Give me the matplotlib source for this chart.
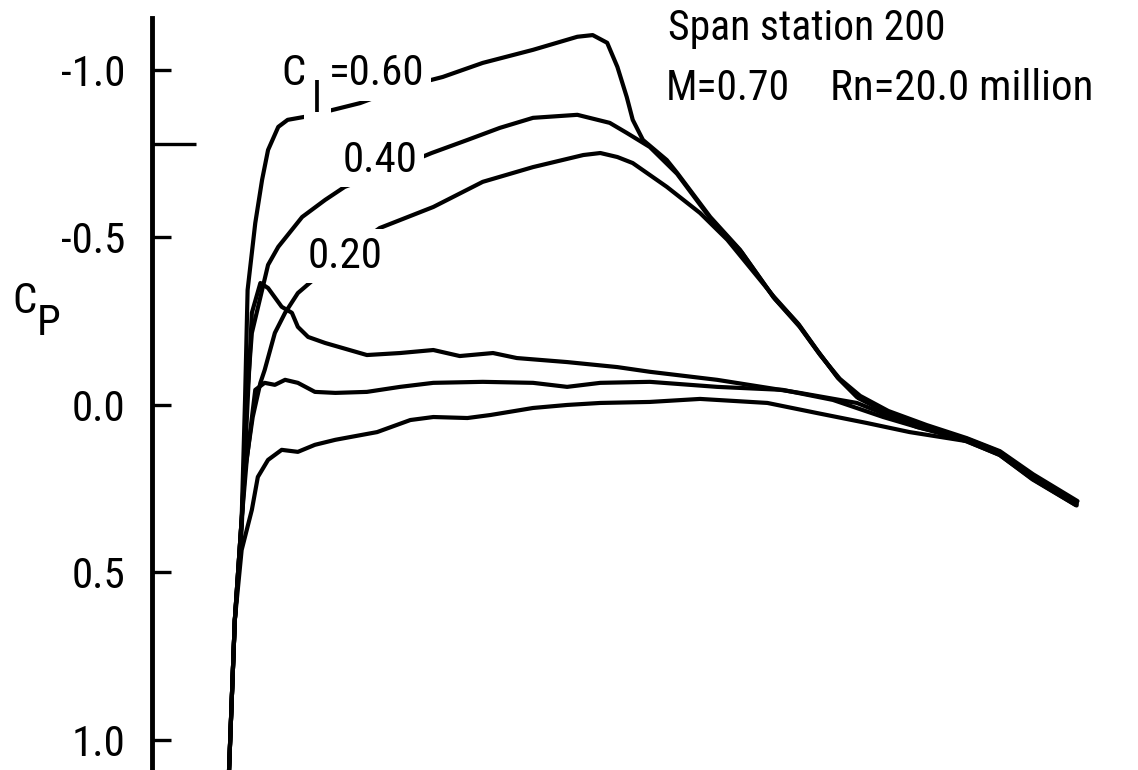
import numpy as np
import matplotlib
matplotlib.use('Agg')
import matplotlib.pyplot as plt

plt.rcParams['font.family'] = ['Roboto Condensed', 'DejaVu Sans']

# chord position x/c and pressure coefficient Cp
# upper surface, CL = 0.60
x_u60 = [0.001, 0.008, 0.016, 0.020, 0.023, 0.032, 0.040, 0.047, 0.059, 0.070, 0.090, 0.114, 0.155, 0.202,
         0.252, 0.299, 0.358, 0.410, 0.428, 0.445, 0.457, 0.468, 0.475, 0.487, 0.515, 0.527, 0.566, 0.601,
         0.640, 0.668, 0.691, 0.715, 0.738, 0.769, 0.820, 0.867, 0.906, 0.945, 0.996]
cp_u60 = [1.104, 0.642, 0.343, -0.015, -0.343, -0.543, -0.672, -0.761, -0.830, -0.851, -0.860, -0.875, -0.901, -0.946,
          -0.979, -1.021, -1.060, -1.099, -1.104, -1.081, -1.009, -0.919, -0.851, -0.791, -0.731, -0.693, -0.561, -0.463,
          -0.322, -0.245, -0.164, -0.084, -0.024, 0.015, 0.066, 0.104, 0.143, 0.215, 0.293]

# upper surface, CL = 0.40
x_u40 = [0.001, 0.008, 0.016, 0.022, 0.028, 0.040, 0.047, 0.059, 0.087, 0.114, 0.137, 0.190, 0.239, 0.281,
         0.319, 0.358, 0.410, 0.448, 0.468, 0.495, 0.527, 0.566, 0.603, 0.642, 0.671, 0.695, 0.718, 0.742,
         0.775, 0.820, 0.867, 0.906, 0.945, 0.997]
cp_u40 = [1.104, 0.642, 0.373, -0.015, -0.215, -0.343, -0.418, -0.472, -0.561, -0.612, -0.651, -0.701, -0.752, -0.791,
          -0.827, -0.857, -0.866, -0.842, -0.812, -0.770, -0.690, -0.557, -0.455, -0.316, -0.233, -0.149, -0.078, -0.027,
          0.018, 0.060, 0.099, 0.138, 0.207, 0.287]

# upper surface, CL = 0.20
x_u20 = [0.001, 0.008, 0.020, 0.029, 0.038, 0.043, 0.055, 0.067, 0.082, 0.104, 0.143, 0.178, 0.241, 0.299,
         0.358, 0.417, 0.437, 0.457, 0.475, 0.515, 0.554, 0.586, 0.640, 0.670, 0.693, 0.716, 0.740, 0.772,
         0.820, 0.866, 0.905, 0.944, 0.995]
cp_u20 = [1.104, 0.642, 0.194, 0.036, -0.066, -0.104, -0.215, -0.275, -0.334, -0.382, -0.463, -0.528, -0.591, -0.666,
          -0.710, -0.746, -0.752, -0.740, -0.722, -0.651, -0.573, -0.493, -0.325, -0.240, -0.158, -0.080, -0.020, 0.021,
          0.070, 0.108, 0.148, 0.222, 0.299]

# lower surface, CL = 0.20
x_l20 = [0.001, 0.008, 0.016, 0.022, 0.028, 0.038, 0.047, 0.063, 0.075, 0.082, 0.094, 0.114, 0.163, 0.202,
         0.241, 0.272, 0.311, 0.339, 0.398, 0.457, 0.495, 0.574, 0.671, 0.738, 0.809, 0.867, 0.906, 0.945, 0.996]
cp_l20 = [1.104, 0.642, 0.343, 0.045, -0.275, -0.364, -0.349, -0.293, -0.275, -0.233, -0.203, -0.185, -0.149, -0.155,
          -0.164, -0.146, -0.155, -0.140, -0.128, -0.113, -0.099, -0.075, -0.036, -0.006, 0.066, 0.101, 0.140, 0.212, 0.290]

# lower surface, CL = 0.40
x_l40 = [0.001, 0.008, 0.016, 0.022, 0.032, 0.043, 0.055, 0.067, 0.082, 0.102, 0.126, 0.163, 0.202, 0.241,
         0.299, 0.358, 0.398, 0.437, 0.495, 0.574, 0.651, 0.710, 0.769, 0.809, 0.867, 0.906, 0.945, 0.996]
cp_l40 = [1.104, 0.642, 0.343, 0.164, -0.045, -0.066, -0.060, -0.075, -0.066, -0.039, -0.036, -0.039, -0.054, -0.066,
          -0.069, -0.066, -0.054, -0.066, -0.069, -0.054, -0.045, -0.015, 0.036, 0.066, 0.106, 0.146, 0.218, 0.296]

# lower surface, CL = 0.60
x_l60 = [0.001, 0.008, 0.016, 0.028, 0.035, 0.047, 0.063, 0.082, 0.102, 0.126, 0.143, 0.175, 0.214, 0.241,
         0.281, 0.308, 0.358, 0.398, 0.437, 0.495, 0.554, 0.633, 0.691, 0.750, 0.800, 0.867, 0.906, 0.945, 0.996]
cp_l60 = [1.104, 0.642, 0.433, 0.313, 0.215, 0.164, 0.134, 0.140, 0.119, 0.104, 0.096, 0.081, 0.045, 0.036,
          0.039, 0.030, 0.009, 0.000, -0.006, -0.009, -0.018, -0.006, 0.024, 0.054, 0.081, 0.108, 0.150, 0.222, 0.300]

cp_star = -0.78
yticks = [-1.0, -0.5, 0.0, 0.5, 1.0]
ytick_labels = ['-1.0', '-0.5', '0.0', '0.5', '1.0']

fig = plt.figure(figsize=(11.38, 7.70), dpi=100)
ax = fig.add_axes([152 / 1138, 0.0, 986 / 1138, 752 / 770])

lw = 3.0
for xs, cs in [(x_u60, cp_u60), (x_u40, cp_u40), (x_u20, cp_u20),
               (x_l20, cp_l20), (x_l40, cp_l40), (x_l60, cp_l60)]:
    ax.plot(xs, cs, color='black', lw=lw, solid_joinstyle='round', solid_capstyle='round', zorder=2)

ax.set_xlim(-0.0892, 1.068)
ax.set_ylim(1.0896, -1.155)

for s in ['top', 'right', 'bottom']:
    ax.spines[s].set_visible(False)
ax.spines['left'].set_linewidth(3.5)
ax.set_xticks([])
ax.set_yticks(yticks)
ax.set_yticklabels(ytick_labels)
ax.set_yticks([cp_star], minor=True)
ax.tick_params(axis='y', which='major', direction='in', length=14, width=2.4, pad=19.5, labelsize=31)
ax.tick_params(axis='y', which='minor', direction='in', length=32, width=2.4)

def box(p):
    return dict(boxstyle='square,pad=%g' % p, facecolor='white', edgecolor='none')

fs = 31
ax.text(0.063, -0.955, 'C', fontsize=fs, va='baseline', ha='left', zorder=3)
ax.text(0.099, -0.875, 'l', fontsize=fs, va='baseline', ha='left', zorder=3, bbox=box(0.2))
ax.text(0.118, -0.955, '=0.60', fontsize=fs, va='baseline', ha='left', zorder=3, bbox=box(0.17))
ax.text(0.135, -0.696, '0.40', fontsize=fs, va='baseline', ha='left', zorder=3, bbox=box(0.15))
ax.text(0.093, -0.409, '0.20', fontsize=fs, va='baseline', ha='left', zorder=3, bbox=box(0.15))

ax.text(0.516, -1.09, 'Span station 200', fontsize=30, va='baseline', ha='left')
ax.text(0.514, -0.910, 'M=0.70', fontsize=30, va='baseline', ha='left')
ax.text(0.7066, -0.910, 'Rn=20.0 million', fontsize=31, va='baseline', ha='left')

ax.text(-0.2535, -0.275, 'C', fontsize=31, va='baseline', ha='left', clip_on=False)
ax.text(-0.224, -0.209, 'P', fontsize=31, va='baseline', ha='left', clip_on=False)

plt.savefig('out.png', dpi=100)
